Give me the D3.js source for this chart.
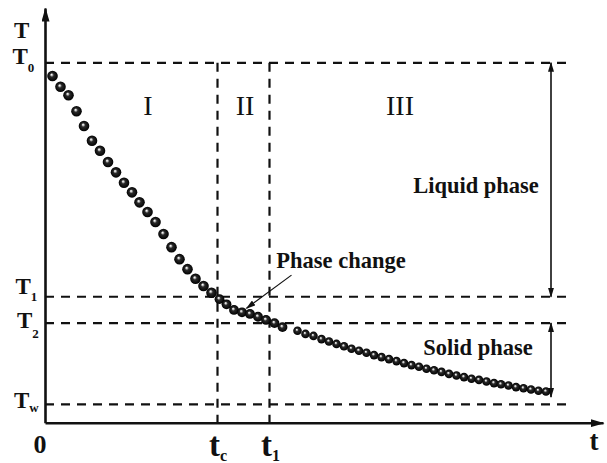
<!DOCTYPE html>
<html>
<head>
<meta charset="utf-8">
<script src="https://cdn.jsdelivr.net/npm/d3@7"></script>
<style>
  html, body { margin: 0; padding: 0; background: #fff; }
  svg { display: block; }
  text { font-family: "Liberation Serif", "Times New Roman", serif; fill: #111; }
</style>
</head>
<body>
<div id="chart"></div>
<script>
// cooling curve (arbitrary units)
const timeVals = [
  1.5, 3.1, 4.7, 6.3, 7.8, 9.4, 11.0, 12.6, 14.2, 15.8, 17.4, 18.9, 20.5, 22.1, 23.7,
  25.3, 26.9, 28.5, 30.1, 31.7, 33.3, 34.9, 36.3,
  37.8, 39.4, 41.0, 42.6, 44.2, 45.9, 47.5,
  50.5, 52.1, 53.7, 55.3, 56.8, 58.3, 59.8, 61.3, 62.8, 64.3, 65.8, 67.3, 68.8, 70.3,
  71.8, 73.3, 74.8, 76.3, 77.8, 79.3, 80.8, 82.3, 83.8, 85.3, 86.8, 88.3, 89.8, 91.2,
  92.7, 94.2, 95.7, 97.2, 98.7, 100.2
];
const tempVals = [
  86.7, 84.0, 81.9, 77.9, 74.2, 70.5, 68.0, 65.2, 62.6, 60.0, 57.6, 55.1, 52.7, 50.2, 47.2,
  43.9, 40.9, 38.4, 36.0, 34.2, 32.5, 30.9, 29.6,
  28.2, 27.6, 27.2, 26.5, 25.7, 24.9, 23.9,
  23.0, 22.2, 21.7, 20.9, 20.3, 19.7, 19.1, 18.5, 18.0, 17.5, 16.9, 16.4, 15.9, 15.4,
  14.9, 14.4, 14.0, 13.5, 13.1, 12.7, 12.2, 11.8, 11.4, 11.0, 10.7, 10.3, 9.9, 9.6,
  9.3, 8.9, 8.6, 8.3, 8.0, 7.8
];

const levelSubs = ['0', '1', '2', 'w'];      // T0, T1, T2, Tw
const levelVals = [90, 31.5, 24.9, 4.6];
const timeSubs = ['c', '1'];                 // tc, t1
const timeMarks = [34.5, 44.9];
const regionNames = ['I', 'II', 'III'];
const regionTimes = [20.6, 40, 71];

const W = 607, H = 463;
const x = d3.scaleLinear().domain([0, 111.6]).range([45, 603]);
const y = d3.scaleLinear().domain([0, 103.7]).range([422.7, 8]);
const guideEnd = 104.4;
const arrowT = 101.2;

const svg = d3.select('#chart').append('svg')
  .attr('width', W)
  .attr('height', H);

const defs = svg.append('defs');

function arrowMarker(id, len, half) {
  defs.append('marker')
    .attr('id', id)
    .attr('viewBox', `0 ${-half} ${len} ${2 * half}`)
    .attr('refX', len - 1)
    .attr('refY', 0)
    .attr('markerWidth', len)
    .attr('markerHeight', 2 * half)
    .attr('markerUnits', 'userSpaceOnUse')
    .attr('orient', 'auto-start-reverse')
    .append('path')
    .attr('d', `M0,${-half}L${len},0L0,${half}Z`)
    .attr('fill', '#111');
}
arrowMarker('axisArrow', 14, 4);
arrowMarker('smallArrow', 10, 3);

const ball = defs.append('radialGradient')
  .attr('id', 'ball')
  .attr('cx', '50%').attr('cy', '50%').attr('r', '50%')
  .attr('fx', '40%').attr('fy', '36%');
ball.append('stop').attr('offset', '0%').attr('stop-color', '#ffffff');
ball.append('stop').attr('offset', '14%').attr('stop-color', '#d0d0d0');
ball.append('stop').attr('offset', '38%').attr('stop-color', '#2a2a2a');
ball.append('stop').attr('offset', '100%').attr('stop-color', '#000000');

// dashed guides
svg.append('g')
  .selectAll('line')
  .data(levelVals)
  .join('line')
  .attr('x1', x(0))
  .attr('x2', x(guideEnd))
  .attr('y1', d => y(d))
  .attr('y2', d => y(d))
  .attr('stroke', '#111')
  .attr('stroke-width', 2.2)
  .attr('stroke-dasharray', '9,7');

svg.append('g')
  .selectAll('line')
  .data(timeMarks)
  .join('line')
  .attr('x1', d => x(d))
  .attr('x2', d => x(d))
  .attr('y1', y(levelVals[0]))
  .attr('y2', y(0))
  .attr('stroke', '#111')
  .attr('stroke-width', 2.2)
  .attr('stroke-dasharray', '9,7');

// axes
const xAxis = svg.append('g')
  .attr('transform', `translate(0, ${y(0)})`)
  .call(d3.axisBottom(x).tickValues([]).tickSizeOuter(0));
const yAxis = svg.append('g')
  .attr('transform', `translate(${x(0)}, 0)`)
  .call(d3.axisLeft(y).tickValues([]).tickSizeOuter(0));
[xAxis, yAxis].forEach(a => a.select('.domain')
  .attr('stroke', '#111')
  .attr('stroke-width', 2.6)
  .attr('marker-end', 'url(#axisArrow)'));

// liquid / solid range arrows
svg.append('line')
  .attr('x1', x(arrowT)).attr('x2', x(arrowT))
  .attr('y1', y(levelVals[0])).attr('y2', y(levelVals[1]))
  .attr('stroke', '#111').attr('stroke-width', 1.6)
  .attr('marker-start', 'url(#smallArrow)')
  .attr('marker-end', 'url(#smallArrow)');
svg.append('line')
  .attr('x1', x(arrowT)).attr('x2', x(arrowT))
  .attr('y1', y(levelVals[2])).attr('y2', y(6.4))
  .attr('stroke', '#111').attr('stroke-width', 1.6)
  .attr('marker-start', 'url(#smallArrow)')
  .attr('marker-end', 'url(#smallArrow)');

// the cooling points
const pts = timeVals.map((t, i) => ({ t, T: tempVals[i] }));
svg.append('g')
  .selectAll('circle')
  .data(pts)
  .join('circle')
  .attr('cx', d => x(d.t))
  .attr('cy', d => y(d.T))
  .attr('r', d => (d.t < timeMarks[0] ? 5.3 : d.t < 48 ? 4.9 : 4.3))
  .attr('fill', 'url(#ball)');

// phase change pointer
svg.append('line')
  .attr('x1', x(49.3)).attr('y1', y(36.9))
  .attr('x2', x(40.3)).attr('y2', y(28.6))
  .attr('stroke', '#111').attr('stroke-width', 1.2)
  .attr('marker-end', 'url(#smallArrow)');

// texts
const bold = sel => sel.attr('font-weight', 'bold');

svg.append('text').call(bold)
  .attr('x', x(59.2)).attr('y', y(38.6))
  .attr('text-anchor', 'middle').attr('font-size', 22.5)
  .text('Phase change');
svg.append('text').call(bold)
  .attr('x', x(86.2)).attr('y', y(57.35))
  .attr('text-anchor', 'middle').attr('font-size', 22.5)
  .text('Liquid phase');
svg.append('text').call(bold)
  .attr('x', x(86.6)).attr('y', y(16.9))
  .attr('text-anchor', 'middle').attr('font-size', 22.5)
  .text('Solid phase');

svg.append('g')
  .selectAll('text')
  .data(regionNames)
  .join('text')
  .attr('x', (d, i) => x(regionTimes[i]))
  .attr('y', y(76.9))
  .attr('text-anchor', 'middle')
  .attr('font-size', 28)
  .text(d => d);

// axis names
svg.append('text').call(bold)
  .attr('x', 21.7).attr('y', 38)
  .attr('text-anchor', 'middle').attr('font-size', 23)
  .text('T');
svg.append('text').call(bold)
  .attr('x', 594).attr('y', 450)
  .attr('text-anchor', 'middle').attr('font-size', 27)
  .text('t');
svg.append('text').call(bold)
  .attr('x', 40).attr('y', 453)
  .attr('text-anchor', 'middle').attr('font-size', 26)
  .text('0');

// T levels on the left
const levelX = [12.5, 15.5, 17, 14];
const levelDy = [1, -3, 5, 4];
const subDy = [8, 7.5, 10, 4];
levelSubs.forEach((s, i) => {
  const lab = svg.append('text').call(bold)
    .attr('x', levelX[i])
    .attr('y', y(levelVals[i]) + levelDy[i]);
  lab.append('tspan').attr('font-size', 23).text('T');
  lab.append('tspan').attr('font-size', 13).attr('dy', subDy[i]).text(s);
});

// t marks below the axis
timeSubs.forEach((s, i) => {
  const lab = svg.append('text').call(bold)
    .attr('x', x(timeMarks[i]) - 8.5)
    .attr('y', 456);
  lab.append('tspan').attr('font-size', 33).text('t');
  lab.append('tspan').attr('font-size', 16).attr('dy', 5).text(s);
});
</script>
</body>
</html>
